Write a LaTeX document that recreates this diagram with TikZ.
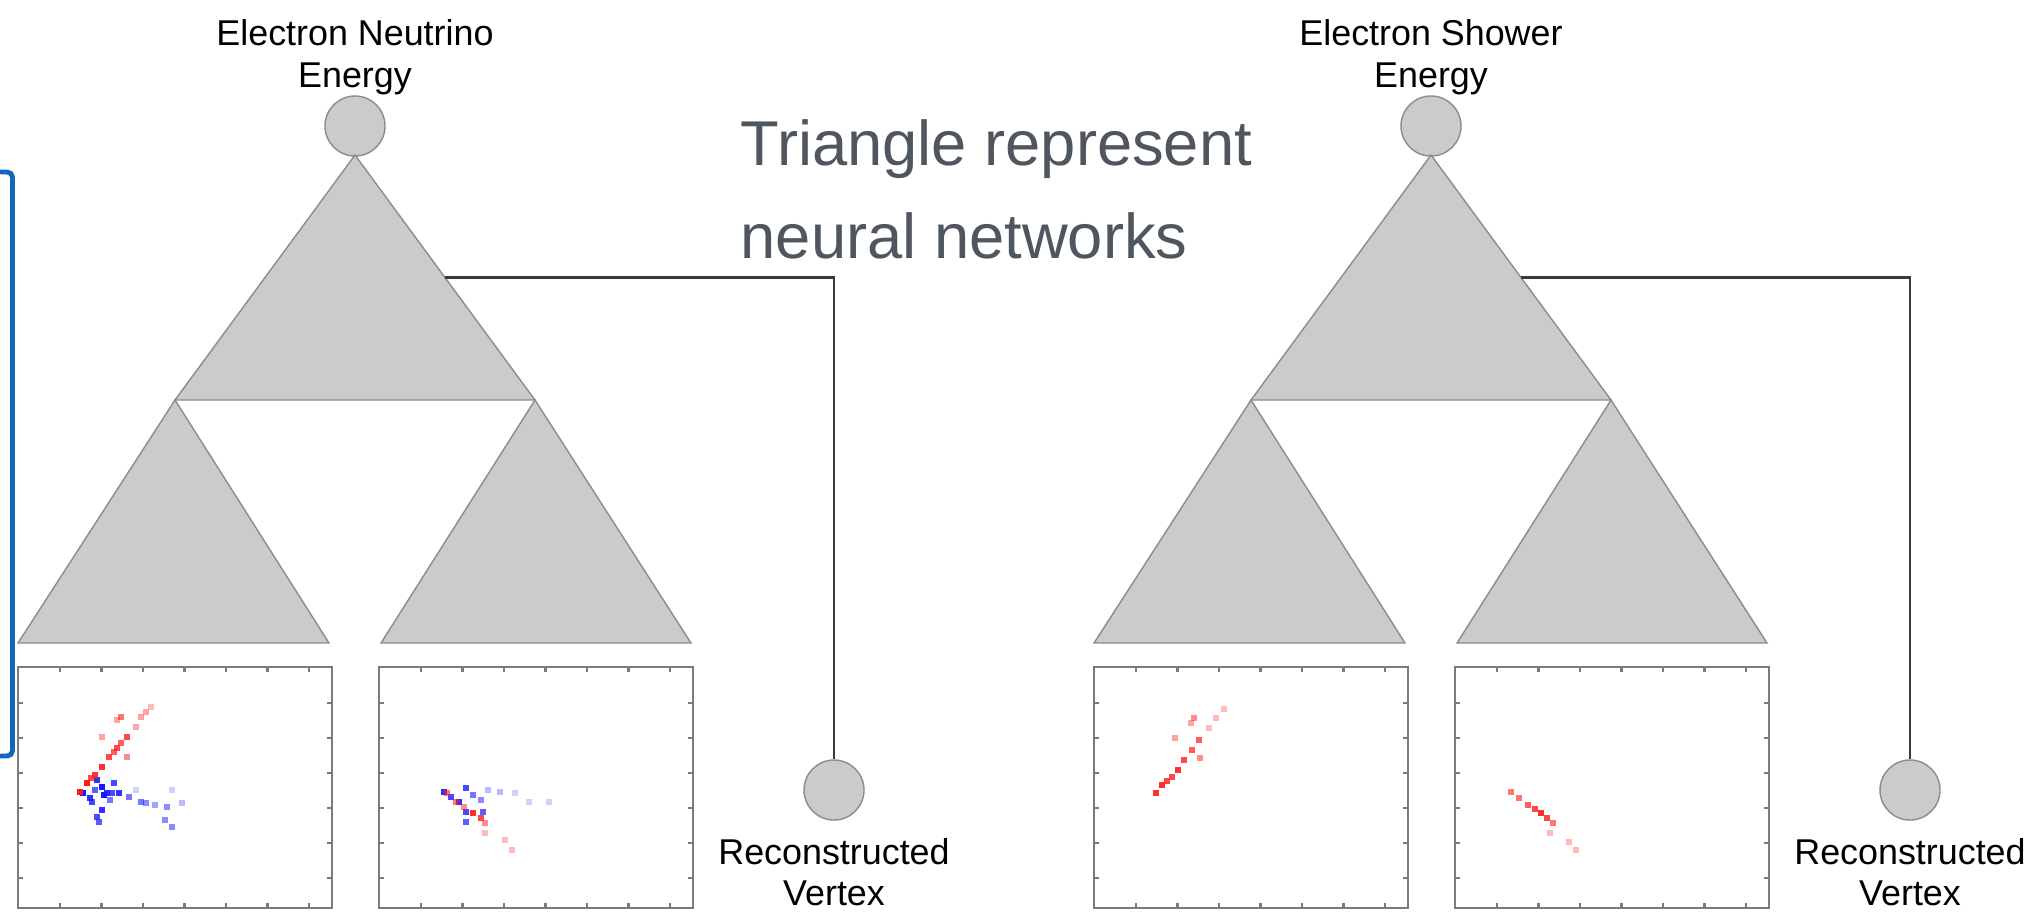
\documentclass[tikz,border=0pt]{standalone}
\usepackage{fontspec}
\setmainfont{Liberation Sans}
\usetikzlibrary{calc}
\definecolor{netgray}{HTML}{CBCBCB}
\definecolor{edgegray}{HTML}{8C8C8C}
\definecolor{framegray}{HTML}{7A7A7A}
\definecolor{wiredark}{HTML}{3A3A3A}
\definecolor{notegray}{HTML}{50565E}
\definecolor{bracketblue}{HTML}{1565C0}
\definecolor{hitred}{HTML}{FF1A1A}
\definecolor{hitblue}{HTML}{1A1AFF}

\begin{document}
\begin{tikzpicture}[x=0.01cm, y=-0.01cm,
    net/.style={fill=netgray, draw=edgegray, line width=0.4pt},
    outnode/.style={circle, fill=netgray, draw=edgegray, line width=0.4pt, minimum size=0.6cm, inner sep=0pt},
    outlabel/.style={align=center, font=\fontsize{10.2}{11.8}\selectfont, inner sep=0pt},
    note/.style={anchor=base west, font=\fontsize{18}{22}\selectfont, text=notegray, inner sep=0pt},
    wire/.style={draw=wiredark, line width=0.8pt},
    plotframe/.style={draw=framegray, line width=0.6pt},
]
\useasboundingbox (0,0) rectangle (2030,911);

% two regression trees, same layout
\foreach \nm/\dx/\ttl in {nu/0/Electron Neutrino, sh/1076/Electron Shower} {
  \begin{scope}[shift={(\dx,0)}]
    \node[outlabel] (\nm-title) at (355,57) {\ttl\\Energy};
    \node[outnode] (\nm-out) at (355,126) {};
    \coordinate (\nm-apex) at (355,155);
    \coordinate (\nm-bl) at (175,400);
    \coordinate (\nm-br) at (535,400);
    \path[net] (\nm-apex) -- (\nm-br) -- (\nm-bl) -- cycle;
    % one network per view
    \path[net] (\nm-bl) -- (329,643) -- (18,643) -- cycle;
    \path[net] (\nm-br) -- (691,643) -- (381,643) -- cycle;
    \node[outnode] (\nm-vtx) at (834,790) {};
    \node[outlabel] (\nm-vtxlabel) at (834,872) {Reconstructed\\Vertex};
    \draw[wire] ($(\nm-apex)!.5!(\nm-br)$) -| (\nm-vtx);
  \end{scope}
}

% event displays
\foreach \bx in {18,379,1094,1455} {
  \draw[plotframe] (\bx,667) rectangle ++(314,241);
  \foreach \k in {0,...,6} {
    \draw[plotframe] (\bx+42+41.5*\k,667) -- ++(0,5);
    \draw[plotframe] (\bx+42+41.5*\k,908) -- ++(0,-5);
  }
  \foreach \k in {0,...,5} {
    \draw[plotframe] (\bx,703+35*\k) -- ++(5,0);
    \draw[plotframe] (\bx+314,703+35*\k) -- ++(-5,0);
  }
}

% hits, nu event
\foreach \px/\py/\op in {83/793/1, 90/798/.9, 97/780/.9, 102/787/1, 107/793/.9, 114/783/.8,
    119/793/.9, 104/795/1, 92/802/.8, 102/810/.9, 97/817/.8, 99/822/.7, 112/793/.8,
    129/797/.6, 141/802/.6, 146/803/.5, 155/805/.4, 167/807/.5, 182/803/.3, 165/820/.5,
    172/827/.5, 172/790/.2, 136/790/.2, 95/790/.7, 110/800/.6,
    444/792/.9, 451/797/.8, 466/788/.8, 459/802/.9, 473/795/.6, 481/800/.5, 466/812/.8,
    483/812/.7, 466/822/.7, 500/792/.3, 515/793/.2, 529/802/.2, 549/802/.2, 488/790/.3}
  \fill[hitblue, opacity=\op] (\px-3,\py-3) rectangle ++(6,6);
\foreach \px/\py/\op in {80/792/1, 87/783/1, 95/775/.9, 102/767/.9, 109/757/.8, 117/748/.8,
    121/743/.7, 127/737/.8, 102/737/.4, 127/757/.5, 121/717/.6, 117/720/.4, 136/727/.4,
    141/717/.4, 146/712/.4, 151/707/.3, 91/778/.8, 114/752/.7,
    447/793/.6, 456/802/.6, 464/807/.5, 473/813/.9, 481/818/.8, 485/823/.5, 485/833/.3,
    505/840/.3, 512/850/.3}
  \fill[hitred, opacity=\op] (\px-3,\py-3) rectangle ++(6,6);

% hits, shower event
\foreach \px/\py/\op in {1156/793/.9, 1162/785/.9, 1172/777/.8, 1178/770/.9, 1184/760/.8,
    1192/750/.7, 1199/740/.7, 1200/758/.5, 1175/738/.4, 1194/718/.5, 1191/723/.4,
    1209/728/.3, 1216/718/.3, 1224/709/.3, 1167/781/.8,
    1511/792/.6, 1519/798/.6, 1528/805/.7, 1541/813/.9, 1547/818/.8, 1553/823/.6,
    1550/833/.3, 1569/842/.3, 1576/850/.3, 1535/809/.8}
  \fill[hitred, opacity=\op] (\px-3,\py-3) rectangle ++(6,6);

\node[note] (note-a) at (740,165) {Triangle represent};
\node[note] (note-b) at (740,258) {neural networks};

\draw[bracketblue, line width=1.4pt, rounded corners=1.5pt] (0,172) -- (12.5,172) -- (12.5,756) -- (0,756);
\end{tikzpicture}
\end{document}
